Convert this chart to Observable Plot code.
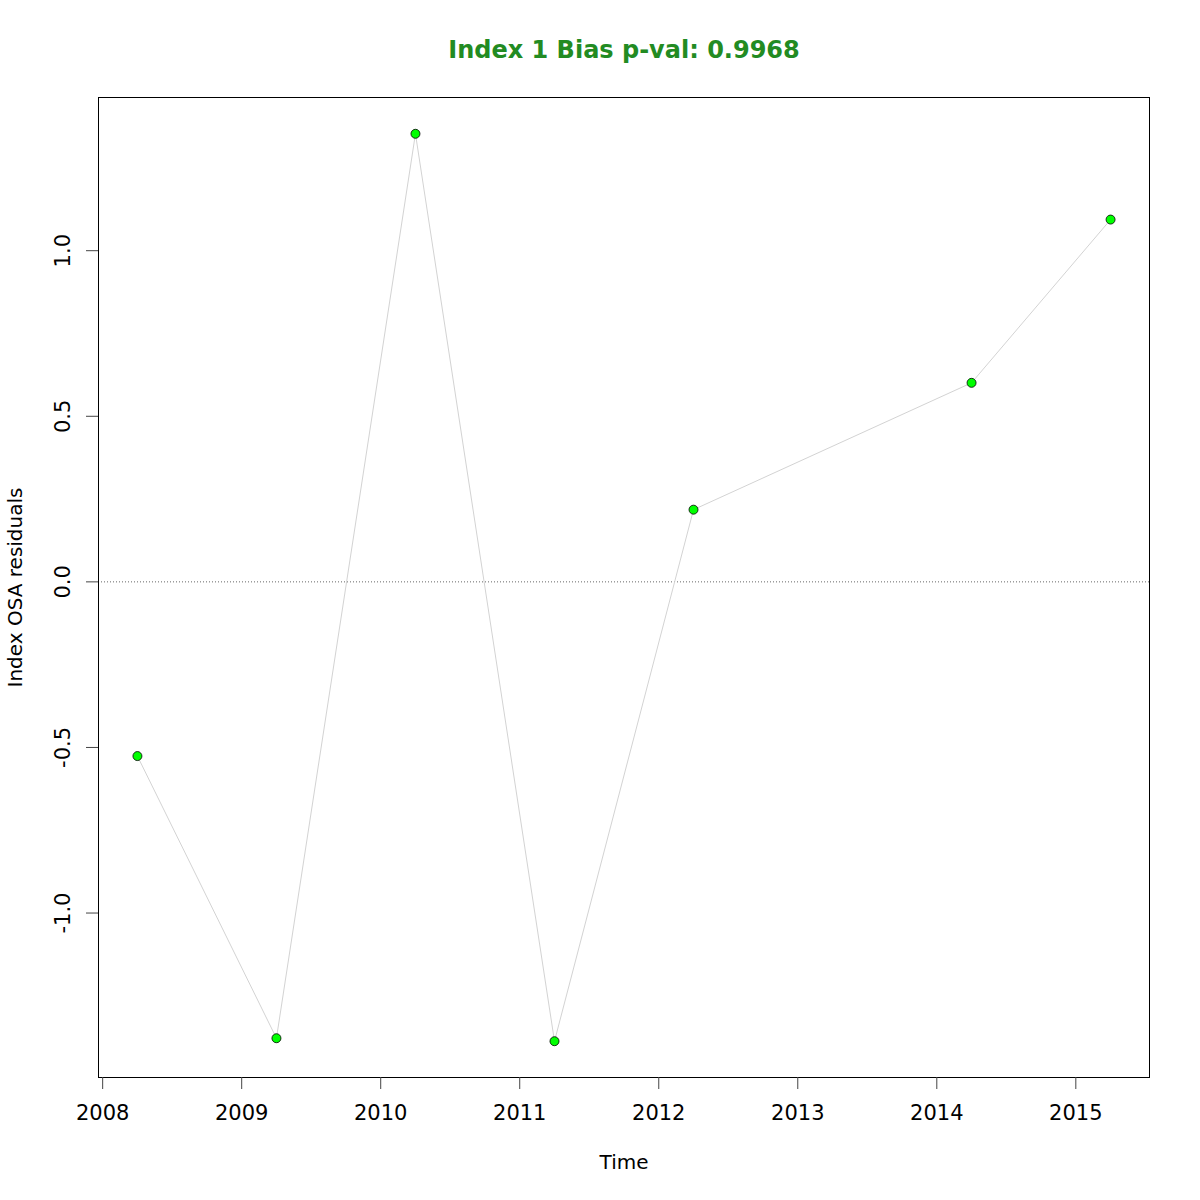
<!DOCTYPE html>
<html>
<head>
<meta charset="utf-8">
<script src="https://cdn.jsdelivr.net/npm/d3@7"></script>
<script src="https://cdn.jsdelivr.net/npm/@observablehq/plot@0.6"></script>
<style>
  html, body { margin: 0; padding: 0; background: #fff; }
  #chart svg { display: block; }
</style>
</head>
<body>
<div id="chart"></div>
<script>
const years = [2008.25, 2009.25, 2010.25, 2011.25, 2012.25, 2014.25, 2015.25];
const residuals = [-0.526, -1.378, 1.353, -1.387, 0.218, 0.601, 1.094];
const xTicks = [2008, 2009, 2010, 2011, 2012, 2013, 2014, 2015];
const yTicks = [-1.0, -0.5, 0.0, 0.5, 1.0];
const titleText = "Index 1 Bias p-val: 0.9968";
const xLabel = "Time";
const yLabel = "Index OSA residuals";

const data = years.map((t, i) => ({t, r: residuals[i]}));

function padded(ext) {
  const d = (ext[1] - ext[0]) * 0.04;
  return [ext[0] - d, ext[1] + d];
}
const xDomain = padded(d3.extent(years));
const yDomain = padded(d3.extent(residuals));

const font = "DejaVu Sans, sans-serif";

const chart = Plot.plot({
  width: 1200,
  height: 1200,
  marginLeft: 98,
  marginRight: 51,
  marginTop: 97,
  marginBottom: 123,
  style: { fontFamily: font, background: "#fff" },
  x: { domain: xDomain, axis: null },
  y: { domain: yDomain, axis: null },
  marks: [
    Plot.ruleY([0], { stroke: "#666", strokeWidth: 1, strokeDasharray: "1,2" }),
    Plot.line(data, { x: "t", y: "r", stroke: "#d3d3d3", strokeWidth: 1 }),
    Plot.dot(data, { x: "t", y: "r", r: 4.5, fill: "#00ff00", stroke: "#000", strokeWidth: 0.8 }),
    Plot.frame({ stroke: "#000", strokeWidth: 1 }),
    Plot.axisX({ ticks: xTicks, tickSize: 12, tickFormat: () => "", label: null, stroke: "#444" }),
    Plot.axisY({ ticks: yTicks, tickSize: 12, tickFormat: () => "", label: null, stroke: "#444" }),
    Plot.text(xTicks, { x: d => d, text: d => String(d), frameAnchor: "bottom", textAnchor: "middle", dy: 42, fontSize: 21, fill: "#000" }),
    Plot.text(yTicks, { y: d => d, text: d => d.toFixed(1), frameAnchor: "left", textAnchor: "middle", dx: -35, rotate: -90, fontSize: 21, fill: "#000" }),
    Plot.text([xLabel], { text: d => d, frameAnchor: "bottom", textAnchor: "middle", dy: 91, fontSize: 20, fill: "#000" }),
    Plot.text([yLabel], { text: d => d, frameAnchor: "left", textAnchor: "middle", dx: -83, rotate: -90, fontSize: 20, fill: "#000" }),
    Plot.text([titleText], { text: d => d, frameAnchor: "top", textAnchor: "middle", dy: -57, fontSize: 24, fontWeight: "bold", fill: "#228b22" })
  ]
});
document.getElementById("chart").appendChild(chart);
</script>
</body>
</html>
